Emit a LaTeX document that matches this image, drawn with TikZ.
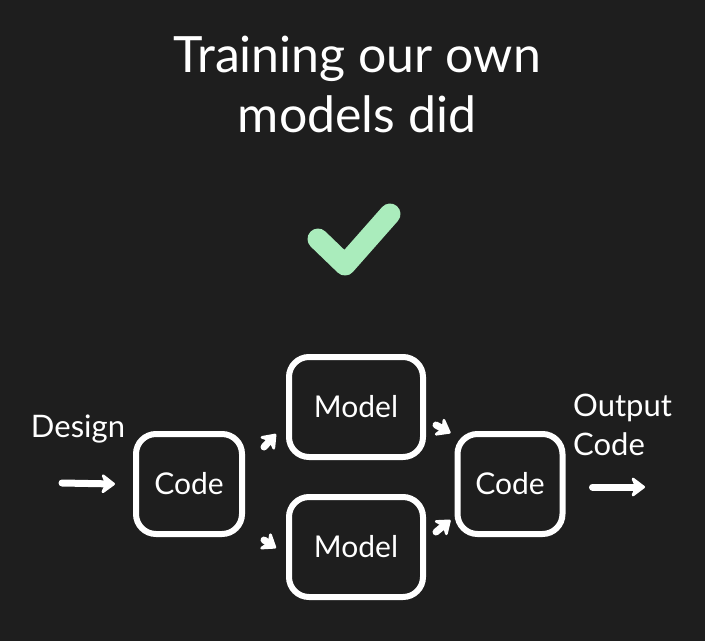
\documentclass[tikz,border=0pt]{standalone}
\usepackage{fontspec}
\setmainfont{Lato}
\usetikzlibrary{arrows.meta}

\definecolor{bgdark}{RGB}{30,30,30}
\definecolor{tickgreen}{RGB}{170,236,188}

\tikzset{
  box/.style={draw=white, line width=6pt, rounded corners=20pt,
    minimum height=100pt, inner sep=0pt, text=white,
    font=\fontsize{30}{34}\selectfont},
  lbl/.style={text=white, inner sep=0pt, font=\fontsize{31}{34}\selectfont},
  flow/.style={-{Stealth[length=16pt,width=24pt,round]}, white, line width=7pt, line cap=round}
}

\begin{document}
\begin{tikzpicture}[x=1pt, y=-1pt]

% Background
\fill[bgdark] (0,0) rectangle (705,641);
\useasboundingbox (0,0) rectangle (705,641);

% Title
\node[lbl, anchor=base, font=\fontsize{50}{58}\selectfont] (title1) at (357,72) {Training our own};
\node[lbl, anchor=base, font=\fontsize{50}{58}\selectfont] (title2) at (357,132) {models did};

% Check mark
\draw[tickgreen, line width=21pt, line cap=round, line join=round]
  (318,239) -- (345,265) -- (390,214);

% Boxes
\node[box, minimum width=106pt] (codein)  at (189,484) {Code};
\node[box, minimum width=134pt] (modeltop) at (356,407) {Model};
\node[box, minimum width=134pt] (modelbot) at (356,547) {Model};
\node[box, minimum width=105pt] (codeout) at (510,484) {Code};

% Labels
\node[lbl, anchor=base] (design) at (78,437) {Design};
\node[lbl, anchor=base west] (output) at (573,416) {Output};
\node[lbl, anchor=base west] (outcode) at (573,455) {Code};

% Free ends
\coordinate (designtail) at (62,483);
\coordinate (outtip) at (645,487);

% Arrows
\draw[flow] (designtail) -- ([xshift=-18]codein.west);
\draw[flow] ([shift={(19,16)}]codein.north east) -- ([shift={(-10,-26)}]modeltop.south west);
\draw[flow] ([shift={(19,3)}]codein.south east) -- ([shift={(-10,1)}]modelbot.west);
\draw[flow] ([shift={(10,-35)}]modeltop.south east) -- ([shift={(-4,2)}]codeout.north west);
\draw[flow] ([shift={(10,38)}]modelbot.north east) -- ([shift={(-4,-17)}]codeout.south west);
\draw[flow] ([shift={(27,3)}]codeout.east) -- (outtip);

\end{tikzpicture}
\end{document}
